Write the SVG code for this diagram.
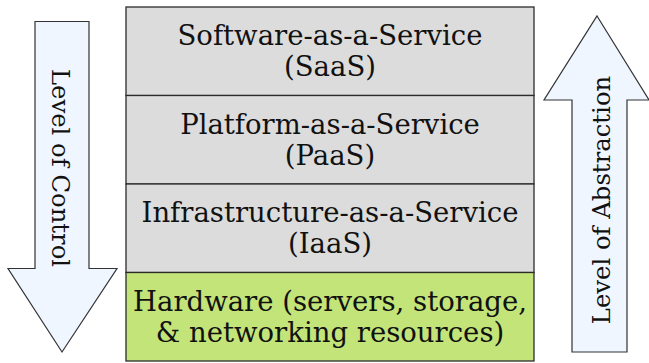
<svg xmlns="http://www.w3.org/2000/svg" width="649" height="363" viewBox="0 0 649 363">
<style>
.box{fill:#dcdcdc;stroke:#2b2b2b;stroke-width:1.3}
.hw{fill:#c2e479;stroke:#2b2b2b;stroke-width:1.3}
.arrow{fill:#eff6ff;stroke:#333;stroke-width:1.2}
.t{font-family:"DejaVu Serif",serif;font-size:27.5px;fill:#111;text-anchor:middle}
.r{font-family:"DejaVu Serif",serif;font-size:24.3px;fill:#111;text-anchor:middle}
</style>
<rect width="649" height="363" fill="#fff"/>
<g id="saas">
<rect class="box" x="126" y="7" width="408" height="88.5"/>
<text class="t" x="330" y="45">Software-as-a-Service</text>
<text class="t" x="330" y="76">(SaaS)</text>
</g>
<g id="paas">
<rect class="box" x="126" y="95.5" width="408" height="88.5"/>
<text class="t" x="330" y="133.5">Platform-as-a-Service</text>
<text class="t" x="330" y="164.5">(PaaS)</text>
</g>
<g id="iaas">
<rect class="box" x="126" y="184" width="408" height="88.5"/>
<text class="t" x="330" y="222">Infrastructure-as-a-Service</text>
<text class="t" x="330" y="253">(IaaS)</text>
</g>
<g id="hardware">
<rect class="hw" x="126" y="272.5" width="408" height="88.5"/>
<text class="t" x="330" y="311">Hardware (servers, storage,</text>
<text class="t" x="330" y="342">&amp; networking resources)</text>
</g>
<g id="control">
<polygon class="arrow" points="35,21.5 89,21.5 89,268.5 117,268.5 62,352 8,268.5 35,268.5"/>
<text class="r" transform="translate(52,168) rotate(90)" x="0" y="0">Level of Control</text>
</g>
<g id="abstraction">
<polygon class="arrow" points="597,16 649,100 627,100 627,352 572,352 572,100 544,100"/>
<text class="r" transform="translate(609.5,200) rotate(-90)" x="0" y="0">Level of Abstraction</text>
</g>
<g id="connectors"/>
</svg>
